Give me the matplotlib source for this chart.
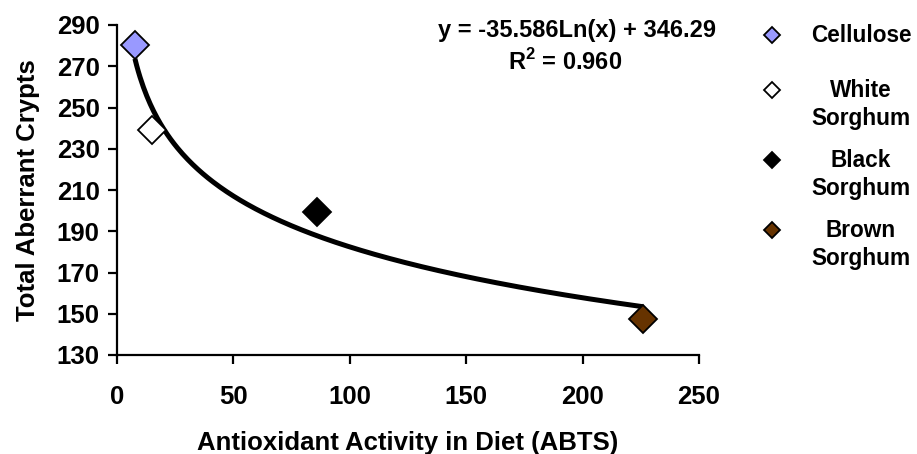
import numpy as np
import matplotlib
matplotlib.use("Agg")
import matplotlib.pyplot as plt
from matplotlib.lines import Line2D

plt.rcParams['font.family'] = ['Liberation Sans', 'DejaVu Sans']
plt.rcParams['font.weight'] = 'bold'
plt.rcParams['mathtext.fontset'] = 'custom'
plt.rcParams['mathtext.rm'] = 'Liberation Sans:bold'
plt.rcParams['mathtext.bf'] = 'Liberation Sans:bold'

categories = ["Cellulose", "White\nSorghum", "Black\nSorghum", "Brown\nSorghum"]
abts = [7.7, 15.0, 86.0, 226.0]
crypts = [280.5, 239.0, 199.5, 147.5]
colors = ["#9999FF", "#FFFFFF", "#000000", "#663300"]
coef_a = -35.586
coef_b = 346.29
r2_text = "0.960"
xticks = [0, 50, 100, 150, 200, 250]
yticks = [130, 150, 170, 190, 210, 230, 250, 270, 290]

fig = plt.figure(figsize=(9.17, 4.54), dpi=100)
ax = fig.add_axes([117/917, 1-355/454, (699-117)/917, (355-25)/454])

xs = np.linspace(min(abts), max(abts), 300)
ax.plot(xs, coef_a*np.log(xs) + coef_b, color='black', lw=3.6, zorder=2, solid_capstyle='butt')

for x, y, c in zip(abts, crypts, colors):
    ax.plot([x], [y], marker='D', ms=14, mfc=c, mec='black', mew=1.3, ls='none', zorder=3,
            clip_on=False)

ax.set_xlim(0, 250)
ax.set_ylim(130, 290)
ax.set_xticks(xticks)
ax.set_yticks(yticks)
for s in ['top', 'right']:
    ax.spines[s].set_visible(False)
for s in ['left', 'bottom']:
    ax.spines[s].set_linewidth(1.6)
ax.tick_params(axis='both', direction='out', length=6.5, width=1.6, labelsize=18.5)
ax.tick_params(axis='x', pad=15)
ax.tick_params(axis='y', pad=6)
for t in ax.get_xticklabels() + ax.get_yticklabels():
    t.set_fontweight('bold')

ax.set_xlabel("Antioxidant Activity in Diet (ABTS)", fontsize=18.5, fontweight='bold', labelpad=16)
ax.set_ylabel("Total Aberrant Crypts", fontsize=18.5, fontweight='bold', labelpad=12)

fig.text(577/917, 1-30/454, "y = -35.586Ln(x) + 346.29", ha='center', va='center',
         fontsize=17, fontweight='bold')
fig.text(565/917, 1-62/454, r"R$^{\mathbf{2}}$ = " + r2_text, ha='center', va='center',
         fontsize=17, fontweight='bold')

# legend (manual, labels centred, marker level with first line)
leg_first_line_y = [35, 90, 160, 230]
for lab, c, yy in zip(categories, colors, leg_first_line_y):
    fig.add_artist(Line2D([772/917], [1-yy/454], transform=fig.transFigure, marker='D', ms=8,
                          mfc=c, mec='black', mew=1.3, ls='none'))
    fig.text(861/917, 1-(yy-11)/454, lab, ha='center', va='top', fontsize=16.3,
             fontweight='bold', multialignment='center', linespacing=1.25,
             transform=fig.transFigure)

fig.savefig("out.png", dpi=100)
